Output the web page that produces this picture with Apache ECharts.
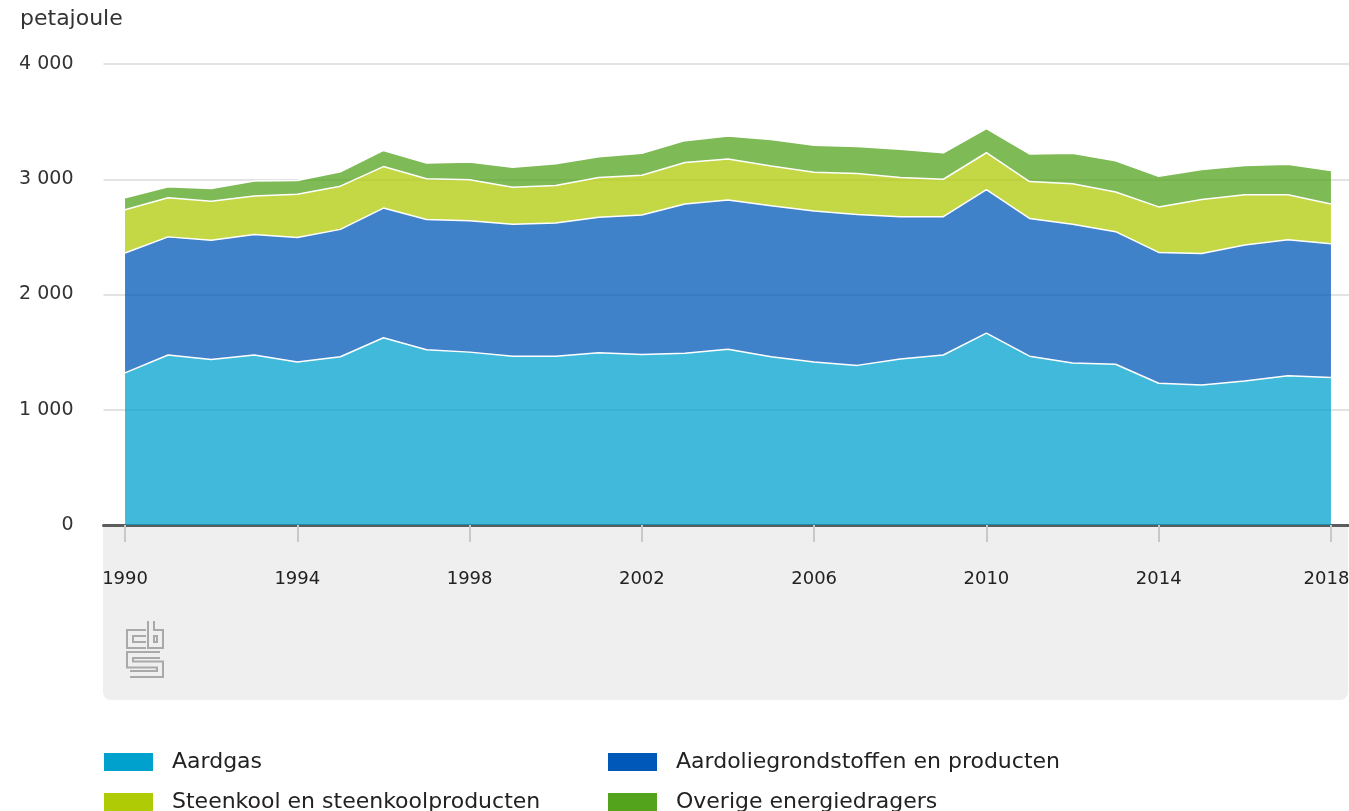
<!DOCTYPE html>
<html>
<head>
<meta charset="utf-8">
<title>Energieverbruik</title>
<script src="https://cdn.jsdelivr.net/npm/echarts@6/dist/echarts.min.js"></script>
<style>
    html, body {margin: 0; padding: 0; background: #fff;}
    #chart {width: 1349px; height: 811px;}
</style>
</head>
<body>
<div id="chart"></div>
<script>
// jaren
const years = ['1990', '1991', '1992', '1993', '1994', '1995', '1996', '1997', '1998', '1999',
    '2000', '2001', '2002', '2003', '2004', '2005', '2006', '2007', '2008', '2009',
    '2010', '2011', '2012', '2013', '2014', '2015', '2016', '2017', '2018*'];

// petajoule per energiedrager
const aardgas = [1320, 1475, 1435, 1475, 1415, 1460, 1625, 1520, 1500, 1465,
    1465, 1495, 1480, 1490, 1525, 1460, 1415, 1385, 1440, 1475,
    1665, 1465, 1405, 1395, 1230, 1215, 1250, 1295, 1280];
const aardolie = [1040, 1025, 1035, 1045, 1080, 1105, 1125, 1130, 1140, 1145,
    1155, 1175, 1210, 1295, 1295, 1310, 1310, 1310, 1235, 1200,
    1245, 1195, 1205, 1150, 1135, 1140, 1180, 1180, 1160];
const steenkool = [375, 340, 340, 335, 375, 375, 360, 355, 355, 320,
    325, 345, 345, 360, 355, 345, 335, 355, 340, 325,
    320, 320, 350, 345, 395, 470, 435, 390, 345];
const overige = [105, 95, 110, 130, 120, 125, 140, 135, 155, 175,
    190, 180, 190, 190, 200, 230, 235, 235, 245, 230,
    210, 240, 265, 270, 265, 260, 255, 265, 290];

const yTicks = [0, 1000, 2000, 3000, 4000];

const names = ['Aardgas', 'Aardoliegrondstoffen en producten', 'Steenkool en steenkoolproducten', 'Overige energiedragers'];
const colors = ['#00a1cd', '#0058b8', '#afcb05', '#53a31d'];
const values = [aardgas, aardolie, steenkool, overige];

const FONT = 'DejaVu Sans';
const panelColor = '#efefef';

let myChart = echarts.init(document.getElementById('chart'));

// legenda: 2 kolommen, 2 rijen
const legendPos = [[104, 751], [608, 751], [104, 791], [608, 791]];
const legends = names.map((n, i) => ({
    data: [n],
    left: legendPos[i][0],
    top: legendPos[i][1],
    padding: 0,
    icon: 'rect',
    itemWidth: 49,
    itemHeight: 18,
    selectedMode: false,
    itemStyle: {borderWidth: 0},
    textStyle: {fontFamily: FONT, fontSize: 22, color: '#222', padding: [0, 0, 0, 14]}
}));

// cbs logo (dikke lijn + dunne lijn in paneelkleur = omtrek)
const logoPaths = [
    [[146, 633], [130, 633], [130, 645], [146, 645]],
    [[151, 621], [151, 645], [160, 645], [160, 633], [151, 633]],
    [[160, 655], [130, 655], [130, 664.5], [160, 664.5], [160, 674], [130, 674]]
];
const logo = [];
logoPaths.forEach(p => {
    logo.push({type: 'polyline', z: 1, shape: {points: p}, style: {stroke: '#a9a9a9', lineWidth: 8, fill: null}});
});
logoPaths.forEach(p => {
    logo.push({type: 'polyline', z: 2, shape: {points: p}, style: {stroke: panelColor, lineWidth: 4, fill: null}});
});

myChart.setOption({
    animation: false,
    title: {
        text: 'petajoule',
        left: 20,
        top: 8,
        padding: 0,
        textStyle: {fontFamily: FONT, fontSize: 22, fontWeight: 'normal', color: '#333'}
    },
    legend: legends,
    grid: {left: 103.5, right: -3.5, top: 64, bottom: 811 - 525, outerBoundsMode: 'none', containLabel: false},
    graphic: [
        {
            type: 'rect', z: -10, silent: true,
            shape: {x: 103, y: 526, width: 1245, height: 174, r: [0, 0, 8, 8]},
            style: {fill: panelColor}
        }
    ].concat(logo),
    xAxis: {
        type: 'category',
        data: years,
        boundaryGap: true,
        axisLine: {lineStyle: {color: '#5c5c5c', width: 3}},
        axisTick: {show: true, alignWithLabel: true, interval: 3, length: 17, lineStyle: {color: '#c8c8c8', width: 2}},
        axisLabel: {interval: 3, margin: 45, fontFamily: FONT, fontSize: 18, color: '#222'},
        splitLine: {show: false}
    },
    yAxis: {
        type: 'value',
        min: yTicks[0],
        max: yTicks[yTicks.length - 1],
        interval: 1000,
        axisLine: {show: false},
        axisTick: {show: false},
        axisLabel: {
            margin: 30,
            fontFamily: FONT,
            fontSize: 19,
            color: '#333',
            formatter: v => String(v).replace(/\B(?=(\d{3})+(?!\d))/g, ' ')
        },
        splitLine: {lineStyle: {color: '#e3e3e3', width: 2}}
    },
    series: names.map((n, i) => ({
        name: n,
        type: 'line',
        stack: 'totaal',
        data: values[i],
        showSymbol: false,
        symbol: 'none',
        color: colors[i],
        itemStyle: {color: colors[i]},
        lineStyle: {color: '#ffffff', width: 1.5},
        areaStyle: {color: colors[i], opacity: 0.75}
    }))
});
</script>
</body>
</html>
